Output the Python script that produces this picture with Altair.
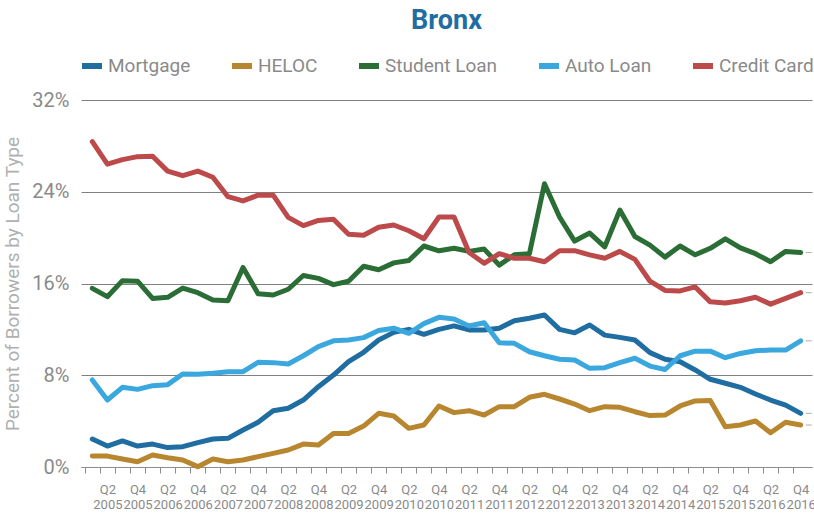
import altair as alt
import pandas as pd

years = [2005, 2006, 2007, 2008, 2009, 2010, 2011, 2012, 2013, 2014, 2015, 2016]
quarters = ["Q1", "Q2", "Q3", "Q4"]
periods = [f"{y} {q}" for y in years for q in quarters]

series_names = ["Mortgage", "HELOC", "Student Loan", "Auto Loan", "Credit Card"]
series_colors = ["#1f6da1", "#b8862f", "#2a6e36", "#3aa8df", "#bd4a4a"]

mortgage = [2.44, 1.83, 2.27, 1.83, 2.0, 1.69, 1.77, 2.12, 2.44, 2.5, 3.23, 3.9,
            4.91, 5.12, 5.84, 7.0, 8.02, 9.18, 10.0, 11.07, 11.74, 12.0, 11.57, 12.0,
            12.3, 11.95, 11.95, 12.1, 12.76, 12.97, 13.25, 12.0, 11.7, 12.38, 11.5, 11.3,
            11.07, 9.97, 9.39, 9.18, 8.46, 7.65, 7.3, 6.95, 6.37, 5.84, 5.4, 4.68]
heloc = [0.96, 0.95, 0.7, 0.46, 1.05, 0.81, 0.61, 0.03, 0.7, 0.46, 0.61, 0.9,
         1.19, 1.48, 2.0, 1.92, 2.93, 2.93, 3.57, 4.68, 4.45, 3.37, 3.66, 5.32,
         4.74, 4.91, 4.53, 5.26, 5.26, 6.08, 6.34, 5.93, 5.49, 4.91, 5.26, 5.2,
         4.82, 4.48, 4.53, 5.32, 5.76, 5.79, 3.51, 3.66, 4.01, 2.99, 3.9, 3.66]
student = [15.58, 14.85, 16.25, 16.2, 14.7, 14.8, 15.6, 15.2, 14.56, 14.5, 17.4, 15.1,
           15.0, 15.5, 16.7, 16.45, 15.9, 16.2, 17.5, 17.2, 17.8, 18.0, 19.27, 18.85,
           19.07, 18.8, 19.0, 17.6, 18.5, 18.6, 24.7, 21.8, 19.7, 20.4, 19.2, 22.4,
           20.1, 19.35, 18.3, 19.27, 18.5, 19.07, 19.9, 19.1, 18.6, 17.9, 18.8, 18.7]
auto = [7.59, 5.84, 6.95, 6.77, 7.09, 7.18, 8.11, 8.08, 8.17, 8.31, 8.31, 9.13,
        9.1, 8.98, 9.7, 10.5, 11.0, 11.07, 11.28, 11.9, 12.1, 11.66, 12.5, 13.05,
        12.9, 12.3, 12.58, 10.84, 10.78, 10.05, 9.7, 9.39, 9.33, 8.6, 8.66, 9.1,
        9.48, 8.8, 8.5, 9.7, 10.1, 10.1, 9.53, 9.9, 10.14, 10.2, 10.2, 11.0]
credit = [28.37, 26.4, 26.8, 27.06, 27.1, 25.8, 25.4, 25.8, 25.26, 23.57, 23.2, 23.7,
          23.7, 21.77, 21.05, 21.5, 21.6, 20.3, 20.2, 20.9, 21.1, 20.6, 19.9, 21.8,
          21.8, 18.7, 17.76, 18.6, 18.2, 18.2, 17.9, 18.86, 18.86, 18.5, 18.2, 18.8,
          18.1, 16.2, 15.4, 15.35, 15.7, 14.4, 14.3, 14.5, 14.8, 14.2, 14.7, 15.2]

y_ticks = [0, 8, 16, 24, 32]

rows = []
for name, vals in zip(series_names, [mortgage, heloc, student, auto, credit]):
    for p, v in zip(periods, vals):
        rows.append({"period": p, "series": name, "value": v})
df = pd.DataFrame(rows)
last_df = df[df["period"] == periods[-1]]

FONT = "Roboto"
GREY = "#8a8a8a"
STEP = 731 / 48

x_enc = alt.X(
    "period:O",
    sort=periods,
    scale=alt.Scale(padding=0.5),
    axis=alt.Axis(
        title=None,
        labelAngle=0,
        labelOverlap=False,
        labelExpr="(indexof(datum.value,'Q2')>0 || indexof(datum.value,'Q4')>0) ? [substring(datum.value,5), substring(datum.value,0,4)] : ''",
        labelFont=FONT,
        labelFontSize=13,
        labelLineHeight=15,
        labelColor=GREY,
        labelPadding=10,
        tickColor="#8c8c8c",
        tickSize=6,
        tickOffset=-STEP / 2,
        labelOffset=STEP / 2,
        domainColor="#8c8c8c",
        grid=False,
    ),
)

y_enc = alt.Y(
    "value:Q",
    scale=alt.Scale(domain=[0, 32], nice=False),
    axis=alt.Axis(
        title="Percent of Borrowers by Loan Type",
        titleFont=FONT,
        titleFontSize=19,
        titleFontWeight="normal",
        titleColor="#b0b0b0",
        titlePadding=9,
        values=y_ticks,
        labelExpr="datum.value + '%'",
        labelFont=FONT,
        labelFontSize=20,
        labelColor=GREY,
        labelPadding=12,
        domain=False,
        ticks=False,
        grid=True,
        gridColor="#808080",
        gridWidth=1,
    ),
)

color_enc = alt.Color(
    "series:N",
    scale=alt.Scale(domain=series_names, range=series_colors),
    legend=alt.Legend(
        title=None,
        orient="none",
        legendX=-2,
        legendY=-47,
        direction="horizontal",
        symbolType="stroke",
        symbolSize=400,
        symbolStrokeWidth=6,
        labelFont=FONT,
        labelFontSize=19,
        labelColor=GREY,
        labelOffset=3,
        columnPadding=29,
    ),
)

lines = alt.Chart(df).mark_line(strokeWidth=5, strokeCap="round", strokeJoin="round").encode(
    x=x_enc, y=y_enc, color=color_enc
)

end_ticks = alt.Chart(last_df).mark_tick(
    orient="horizontal", size=6, thickness=1, xOffset=8, color="#8c8c8c"
).encode(
    x=alt.X("period:O", sort=periods),
    y=alt.Y("value:Q"),
)

chart = alt.layer(lines, end_ticks).properties(
    width=731,
    height=367,
    autosize=alt.AutoSizeParams(type="none"),
    padding={"left": 81, "top": 100, "right": 2, "bottom": 48},
    title=alt.TitleParams(
        "Bronx",
        font=FONT,
        fontSize=27,
        fontWeight="bold",
        color="#1f6da1",
        anchor="middle",
        frame="group",
        offset=18,
    ),
).configure_view(stroke=None)

chart.save("out.html", embed_options={"renderer": "svg", "actions": False})
